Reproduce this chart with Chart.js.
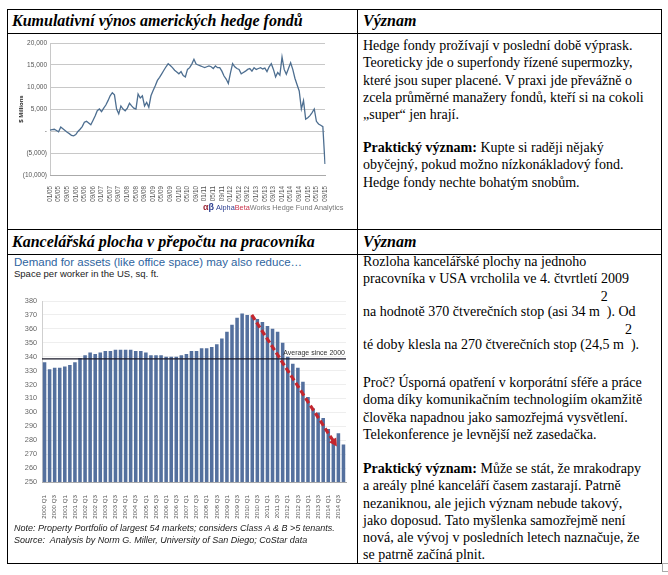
<!DOCTYPE html>
<html>
<head>
<meta charset="utf-8">
<script src="https://cdn.jsdelivr.net/npm/chart.js@4.4.0/dist/chart.umd.min.js"></script>
<style>
body { margin: 0; background: #fff; width: 668px; height: 575px; position: relative; overflow: hidden;
       font-family: "Liberation Serif", "Times New Roman", serif; color: #000; }
.ln { position: absolute; background: #000; }
.hd { position: absolute; font-weight: bold; font-style: italic; font-size: 16px; white-space: nowrap; line-height: 24px; }
.tx { position: absolute; left: 363px; font-size: 14px; line-height: 17.3px; white-space: nowrap; }
.sq { position: relative; }
.sq span { position: absolute; left: 1px; top: -16px; }
.box { position: absolute; }
.sans { font-family: "Liberation Sans", Arial, sans-serif; }
</style>
</head>
<body>

<!-- mrizka tabulky -->
<div class="ln" style="left:7px;top:9px;width:655px;height:1px"></div>
<div class="ln" style="left:7px;top:33px;width:655px;height:1px"></div>
<div class="ln" style="left:7px;top:229px;width:655px;height:1px"></div>
<div class="ln" style="left:7px;top:254px;width:655px;height:1px"></div>
<div class="ln" style="left:7px;top:563px;width:655px;height:1px"></div>
<div class="ln" style="left:7px;top:9px;width:1px;height:555px"></div>
<div class="ln" style="left:357px;top:9px;width:1px;height:555px"></div>
<div class="ln" style="left:661px;top:9px;width:1px;height:555px"></div>
<div style="position:absolute;left:662px;top:563px;width:7px;height:7px;border:1px solid #aaa"></div>

<div class="hd" style="left:12px;top:9px">Kumulativní výnos amerických hedge fondů</div>
<div class="hd" style="left:363px;top:9px">Význam</div>
<div class="hd" style="left:12px;top:230px">Kancelářská plocha v přepočtu na pracovníka</div>
<div class="hd" style="left:363px;top:230px">Význam</div>

<div class="tx" style="top:37px">
Hedge fondy prožívají v poslední době výprask.<br>
Teoreticky jde o superfondy řízené supermozky,<br>
které jsou super placené. V praxi jde převážně o<br>
zcela průměrné manažery fondů, kteří si na cokoli<br>
„super“ jen hrají.
</div>
<div class="tx" style="top:139px">
<b>Praktický význam:</b> Kupte si raději nějaký<br>
obyčejný, pokud možno nízkonákladový fond.<br>
Hedge fondy nechte bohatým snobům.
</div>

<div class="tx" style="top:253px">
<div>Rozloha kancelářské plochy na jednoho</div>
<div>pracovníka v USA vrcholila ve 4. čtvrtletí 2009</div>
<div style="margin-top:15.7px">na hodnotě 370 čtverečních stop (asi 34 m<span class="sq">&nbsp;&nbsp;<span>2</span></span>). Od</div>
<div style="margin-top:15.7px">té doby klesla na 270 čtverečních stop (24,5 m<span class="sq">&nbsp;&nbsp;<span>2</span></span>).</div>
</div>
<div class="tx" style="top:374px">
Proč? Úsporná opatření v korporátní sféře a práce<br>
doma díky komunikačním technologiím okamžitě<br>
člověka napadnou jako samozřejmá vysvětlení.<br>
Telekonference je levnější než zasedačka.
</div>
<div class="tx" style="top:460px">
<b>Praktický význam:</b> Může se stát, že mrakodrapy<br>
a areály plné kanceláří časem zastarají. Patrně<br>
nezaniknou, ale jejich význam nebude takový,<br>
jako doposud. Tato myšlenka samozřejmě není<br>
nová, ale vývoj v posledních letech naznačuje, že<br>
se patrně začíná plnit.
</div>

<!-- graf 1 -->
<div class="box" style="left:8px;top:34px;width:349px;height:194px"><canvas id="hedgeChart"></canvas></div>
<div class="sans" style="position:absolute;left:203px;top:202px;font-size:7.3px;white-space:nowrap;color:#777">
<span style="font-weight:bold;color:#9c2a3a;font-size:9px">α</span><span style="font-weight:bold;color:#2b3d8f;font-size:9px">β</span>
<span style="color:#2b3d8f">Alpha</span><span style="color:#c8324a">Beta</span>Works Hedge Fund Analytics</div>

<!-- graf 2 -->
<div class="sans" style="position:absolute;left:14px;top:256px;font-size:11.5px;color:#2e64a0;white-space:nowrap">Demand for assets (like office space) may also reduce…</div>
<div class="sans" style="position:absolute;left:14px;top:268px;font-size:9.5px;color:#222;white-space:nowrap">Space per worker in the US, sq. ft.</div>
<div class="box" style="left:8px;top:285px;width:349px;height:240px"><canvas id="officeChart"></canvas></div>
<div class="sans" style="position:absolute;left:14px;top:522px;font-size:9px;font-style:italic;color:#222;white-space:nowrap;line-height:12px">
Note: Property Portfolio of largest 54 markets; considers Class A &amp; B &gt;5 tenants.<br>
Source:&nbsp; Analysis by Norm G. Miller, University of San Diego; CoStar data</div>

<script>
// kumulativni vynos hedge fondu, $ mil., mesicne 01/05 - 09/15
const hfValues = [
    200, 300, 400, 100, -200, 900, 500, 100, -300, -600,
    -1000, -1100, -800, -100, 400, 1000, 2000, 2200, 1800, 1400,
    2400, 3400, 4600, 5000, 4400, 5200, 5900, 6900, 8000, 8700,
    8200, 5000, 3900, 5700, 5000, 4600, 5200, 6300, 5700, 5200,
    5000, 8400, 7500, 8000, 5700, 6500, 5400, 8000, 9200, 10300,
    11500, 12200, 13000, 13800, 14600, 15300, 14900, 14400, 13800, 13400,
    13000, 13500, 12600, 12300, 14000, 14400, 15200, 16300, 15200, 15000,
    14800, 14600, 14400, 14600, 14800, 14600, 14200, 14800, 14400, 14400,
    13600, 12500, 11800, 10800, 13200, 15300, 14600, 14200, 14000, 13000,
    13300, 13600, 14000, 14200, 13600, 14400, 14000, 14200, 14400, 14100,
    14300, 13500, 14600, 15300, 14000, 12300, 13300, 12700, 16800, 14000,
    12900, 14200, 15500, 14000, 12000, 10500, 9100, 5000, 6900, 2700,
    3000, 3500, 4200, 5000, 2200, 1600, 1300, 1000, -7500
];
const hfTickLabels = ['01/05','05/05','09/05','01/06','05/06','09/06','01/07','05/07','09/07',
    '01/08','05/08','09/08','01/09','05/09','09/09','01/10','05/10','09/10','01/11','05/11','09/11',
    '01/12','05/12','09/12','01/13','05/13','09/13','01/14','05/14','09/14','01/15','05/15','09/15'];

// kancelarska plocha na pracovnika, sq. ft., ctvrtletne 2000 Q1 - 2014 Q4
const officeValues = [
    336, 331, 332, 332, 333, 334, 336, 339, 341, 343,
    342, 343, 344, 344, 345, 345, 345, 345, 344, 344,
    343, 341, 341, 341, 340, 340, 340, 341, 342, 344,
    344, 346, 346, 347, 349, 353, 358, 363, 368, 371,
    370, 369, 367, 365, 362, 360, 358, 350, 340, 335,
    332, 322, 311, 303, 300, 296, 288, 281, 285, 277
];
const officeAverage = 338.5;
const trendFrom = [40.9, 370];
const trendTo = [57.7, 275.5];

const pad2 = n => String(n).padStart(2, '0');
const hfMonths = [];
for (let y = 5; y <= 15; y++) {
    for (let m = 1; m <= 12; m++) {
        if (y === 15 && m > 9) break;
        hfMonths.push(pad2(m) + '/' + pad2(y));
    }
}
const quarters = [];
for (let y = 2000; y <= 2014; y++) {
    for (let q = 1; q <= 4; q++) quarters.push(y + ' Q' + q);
}

const sans = '"Liberation Sans", Arial, sans-serif';
Chart.defaults.font.family = sans;
Chart.defaults.animation = false;

function fmtMil(v) {
    if (v === 0) return '-';
    const s = Math.abs(v).toLocaleString('en-US');
    return v < 0 ? '(' + s + ')' : s;
}

new Chart(document.getElementById('hedgeChart'), {
    type: 'line',
    data: {
        labels: hfMonths,
        datasets: [{
            data: hfValues,
            borderColor: '#4d6e90',
            borderWidth: 1.3,
            pointRadius: 0,
            tension: 0
        }]
    },
    options: {
        responsive: true,
        maintainAspectRatio: false,
        plugins: { legend: { display: false }, tooltip: { enabled: false } },
        layout: { padding: { left: 0, right: 32, top: 9, bottom: 0 } },
        scales: {
            y: {
                min: -10000, max: 20000,
                ticks: { stepSize: 5000, callback: fmtMil, font: { size: 6.5 }, color: '#555', padding: 3 },
                grid: { color: '#c8c8c8', drawTicks: false },
                border: { color: '#c8c8c8' },
                title: { display: true, text: '$ Millions', font: { size: 6, weight: 'bold' }, color: '#222', padding: { top: 10, bottom: 0 } },
                afterFit: s => { s.width = 42; }
            },
            x: {
                grid: { display: false },
                border: { color: '#aaa' },
                ticks: {
                    autoSkip: false, minRotation: 90, maxRotation: 90, padding: 3,
                    font: { size: 6.3 }, color: '#555',
                    callback: (v, i) => hfTickLabels.includes(hfMonths[i]) ? hfMonths[i] : ''
                },
                afterFit: s => { s.height = 53; }
            }
        }
    }
});

// prumer a cervena sipka trendu
const officeOverlay = {
    id: 'officeOverlay',
    afterDatasetsDraw(chart) {
        const { ctx, chartArea, scales: { x, y } } = chart;
        const ay = y.getPixelForValue(officeAverage);
        ctx.save();
        ctx.strokeStyle = '#1a1a2a';
        ctx.lineWidth = 1.3;
        ctx.beginPath();
        ctx.moveTo(chartArea.left, ay);
        ctx.lineTo(chartArea.right, ay);
        ctx.stroke();
        ctx.fillStyle = '#333';
        ctx.font = '7px ' + sans;
        ctx.textAlign = 'right';
        ctx.textBaseline = 'bottom';
        ctx.fillText('Average since 2000', chartArea.right - 1, ay - 2);

        const x1 = x.getPixelForValue(trendFrom[0]), y1 = y.getPixelForValue(trendFrom[1]);
        const x2 = x.getPixelForValue(trendTo[0]), y2 = y.getPixelForValue(trendTo[1]);
        const ang = Math.atan2(y2 - y1, x2 - x1);
        const head = 9;
        ctx.strokeStyle = '#c4262e';
        ctx.fillStyle = '#c4262e';
        ctx.lineWidth = 3.2;
        ctx.setLineDash([6, 3]);
        ctx.beginPath();
        ctx.moveTo(x1, y1);
        ctx.lineTo(x2 - Math.cos(ang) * head * 0.8, y2 - Math.sin(ang) * head * 0.8);
        ctx.stroke();
        ctx.setLineDash([]);
        ctx.beginPath();
        ctx.moveTo(x2, y2);
        ctx.lineTo(x2 - head * Math.cos(ang - 0.5), y2 - head * Math.sin(ang - 0.5));
        ctx.lineTo(x2 - head * Math.cos(ang + 0.5), y2 - head * Math.sin(ang + 0.5));
        ctx.closePath();
        ctx.fill();
        ctx.restore();
    }
};

new Chart(document.getElementById('officeChart'), {
    type: 'bar',
    data: {
        labels: quarters,
        datasets: [{
            data: officeValues,
            backgroundColor: '#54709e',
            barPercentage: 0.7,
            categoryPercentage: 1
        }]
    },
    options: {
        responsive: true,
        maintainAspectRatio: false,
        plugins: { legend: { display: false }, tooltip: { enabled: false } },
        layout: { padding: { left: 0, right: 11, top: 16, bottom: 0 } },
        scales: {
            y: {
                min: 250, max: 380,
                ticks: { stepSize: 10, font: { size: 7.3 }, color: '#666', padding: 5 },
                grid: { color: '#eeeeee', drawTicks: false },
                border: { color: '#cfcfcf' },
                afterFit: s => { s.width = 34; }
            },
            x: {
                grid: { display: false },
                border: { color: '#aaa' },
                ticks: {
                    autoSkip: false, minRotation: 90, maxRotation: 90, padding: 5,
                    font: { size: 6.2 }, color: '#555',
                    callback: (v, i) => i % 2 === 0 ? quarters[i] : ''
                },
                afterFit: s => { s.height = 43; }
            }
        }
    },
    plugins: [officeOverlay]
});
</script>
</body>
</html>
